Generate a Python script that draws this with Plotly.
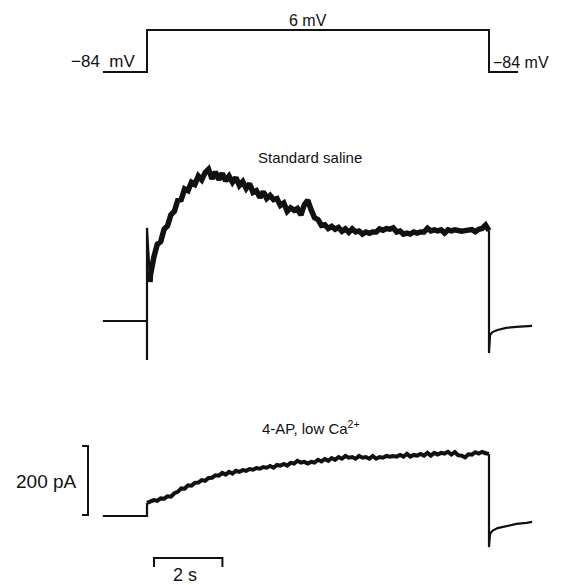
import plotly.graph_objects as go

# ---------------- data ----------------
# command voltage (mV) vs time (s)
volt_t = [-1.29, 0.0, 0.0, 10.0, 10.0, 10.85]
volt_mv = [-84, -84, 6, 6, -84, -84]

# sample times of the noisy parts of the current records (s)
sample_dt = 0.1
sample_t = [round(sample_dt * k, 2) for k in range(1, 101)]

# Standard saline current (pA, relative to holding current)
saline_on_t = [-1.29, 0.0, 0.0, 0.0, 0.09]
saline_on_pa = [0, 0, -113, 270, 113]
saline_pa = [133, 185, 222, 230, 266, 276, 308, 318, 350, 352,
             383, 378, 402, 396, 420, 409, 430, 440, 412, 432,
             410, 428, 406, 420, 402, 416, 393, 404, 384, 398,
             373, 378, 358, 375, 355, 364, 352, 355, 335, 342,
             318, 328, 321, 326, 307, 337, 350, 322, 299, 294,
             277, 279, 268, 274, 266, 271, 260, 267, 257, 267,
             258, 261, 252, 258, 254, 258, 258, 267, 263, 268,
             266, 270, 258, 261, 252, 255, 252, 258, 255, 258,
             258, 269, 261, 264, 261, 264, 255, 264, 261, 264,
             261, 260, 262, 264, 265, 259, 266, 268, 278, 262]
saline_off_t = [10.0, 10.0, 10.03, 10.1, 10.25, 10.5, 10.8, 11.1, 11.26]
saline_off_pa = [262, -93, -41, -32, -26, -20, -17, -15, -14]

# 4-AP, low Ca2+ current (pA)
ap_on_t = [-1.29, 0.0, 0.0]
ap_on_pa = [0, 0, 38]
ap_pa = [41, 46, 44, 51, 50, 57, 56, 66, 70, 80,
         79, 89, 88, 96, 97, 104, 102, 110, 111, 118,
         117, 125, 120, 128, 123, 131, 128, 133, 131, 136,
         134, 139, 137, 142, 140, 145, 140, 148, 146, 151,
         146, 154, 152, 160, 155, 157, 152, 157, 155, 163,
         158, 165, 160, 168, 163, 171, 166, 174, 169, 171,
         166, 174, 169, 171, 166, 174, 166, 171, 169, 174,
         172, 174, 172, 177, 172, 180, 172, 177, 175, 180,
         175, 183, 175, 183, 178, 183, 181, 186, 178, 185,
         176, 175, 170, 179, 178, 185, 181, 186, 182, 180]
ap_off_t = [10.0, 10.0, 10.03, 10.1, 10.25, 10.5, 10.8, 11.1, 11.26]
ap_off_pa = [180, -90, -52, -43, -35, -29, -23, -20, -17]

# scale bars
bar_pa = 200
bar_s = 2

# ---------------- figure geometry ----------------
PAGE_W, PAGE_H = 568, 585
OFF = 8                      # default page margin of the html body
W, H = PAGE_W - OFF, PAGE_H - OFF
px_per_s = 34.2
px_per_pa = 0.345
px_per_mv = 42 / 90
x0_px = 147                  # pulse onset, page px from left

x_range = [(OFF - x0_px) / px_per_s, (PAGE_W - x0_px) / px_per_s]


def yrange(zero_px, scale):
    return [-(PAGE_H - zero_px) / scale, (zero_px - OFF) / scale]


sal_range = yrange(321, px_per_pa)
ap_range = yrange(516, px_per_pa)
v_lo, v_hi = yrange(72, px_per_mv)
v_range = [-84 + v_lo, -84 + v_hi]

ink = "#111111"
FONT = "Liberation Sans"

fig = go.Figure()

# voltage protocol
fig.add_trace(go.Scatter(x=volt_t, y=volt_mv, mode="lines", yaxis="y3",
                         line=dict(color=ink, width=2), hoverinfo="skip"))

# standard saline
fig.add_trace(go.Scatter(x=saline_on_t, y=saline_on_pa, mode="lines", yaxis="y",
                         line=dict(color=ink, width=2.2), hoverinfo="skip"))
fig.add_trace(go.Scatter(x=[saline_on_t[-1]] + sample_t, y=[saline_on_pa[-1]] + saline_pa,
                         mode="lines", yaxis="y",
                         line=dict(color=ink, width=5.5), hoverinfo="skip"))
fig.add_trace(go.Scatter(x=saline_off_t, y=saline_off_pa, mode="lines", yaxis="y",
                         line=dict(color=ink, width=2.2), hoverinfo="skip"))

# 4-AP, low Ca
fig.add_trace(go.Scatter(x=ap_on_t, y=ap_on_pa, mode="lines", yaxis="y2",
                         line=dict(color=ink, width=2.2), hoverinfo="skip"))
fig.add_trace(go.Scatter(x=[0.0] + sample_t, y=[ap_on_pa[-1]] + ap_pa,
                         mode="lines", yaxis="y2",
                         line=dict(color=ink, width=4), hoverinfo="skip"))
fig.add_trace(go.Scatter(x=ap_off_t, y=ap_off_pa, mode="lines", yaxis="y2",
                         line=dict(color=ink, width=2.2), hoverinfo="skip"))

# scale bars (in 4-AP trace coordinates)
vb_t = -1.725
vb_tick = -1.90
vb_lo = 3
hb_t0 = 0.205
hb_pa = -121.7
hb_tick = -147.8
fig.add_trace(go.Scatter(x=[vb_tick, vb_t, vb_t, vb_tick],
                         y=[vb_lo + bar_pa, vb_lo + bar_pa, vb_lo, vb_lo],
                         mode="lines", yaxis="y2",
                         line=dict(color=ink, width=2), hoverinfo="skip"))
fig.add_trace(go.Scatter(x=[hb_t0, hb_t0, hb_t0 + bar_s, hb_t0 + bar_s],
                         y=[hb_tick, hb_pa, hb_pa, hb_tick],
                         mode="lines", yaxis="y2",
                         line=dict(color=ink, width=2), hoverinfo="skip"))

anns = [
    dict(text="6 mV", x=4.7, y=6, yref="y3", xanchor="center", yanchor="bottom", size=16),
    dict(text="\u221284\u00a0\u00a0mV", x=-0.33, y=-84, yref="y3", xanchor="right",
         yanchor="bottom", size=17),
    dict(text="\u221284 mV", x=10.08, y=-84, yref="y3", xanchor="left",
         yanchor="bottom", size=16),
    dict(text="Standard saline", x=4.77, y=446, yref="y", xanchor="center",
         yanchor="bottom", size=15),
    dict(text="4-AP, low Ca<sup>2+</sup>", x=4.8, y=226, yref="y2", xanchor="center",
         yanchor="bottom", size=15),
    dict(text="200 pA", x=-2.03, y=101, yref="y2", xanchor="right", yanchor="middle", size=19),
    dict(text="2 s", x=hb_t0 + bar_s / 2 - 0.1, y=-170, yref="y2", xanchor="center",
         yanchor="middle", size=18),
]
for a in anns:
    size = a.pop("size")
    a.update(xref="x", showarrow=False, font=dict(family=FONT, size=size, color=ink),
             borderpad=0)
fig.update_layout(annotations=anns)

ax_common = dict(visible=False, showgrid=False, zeroline=False, fixedrange=True)
fig.update_layout(
    width=W, height=H,
    margin=dict(l=0, r=0, t=0, b=0),
    paper_bgcolor="white", plot_bgcolor="white",
    showlegend=False,
    xaxis=dict(range=x_range, domain=[0, 1], **ax_common),
    yaxis=dict(range=sal_range, domain=[0, 1], **ax_common),
    yaxis2=dict(range=ap_range, overlaying="y", **ax_common),
    yaxis3=dict(range=v_range, overlaying="y", **ax_common),
)

fig.write_html("out.html")
